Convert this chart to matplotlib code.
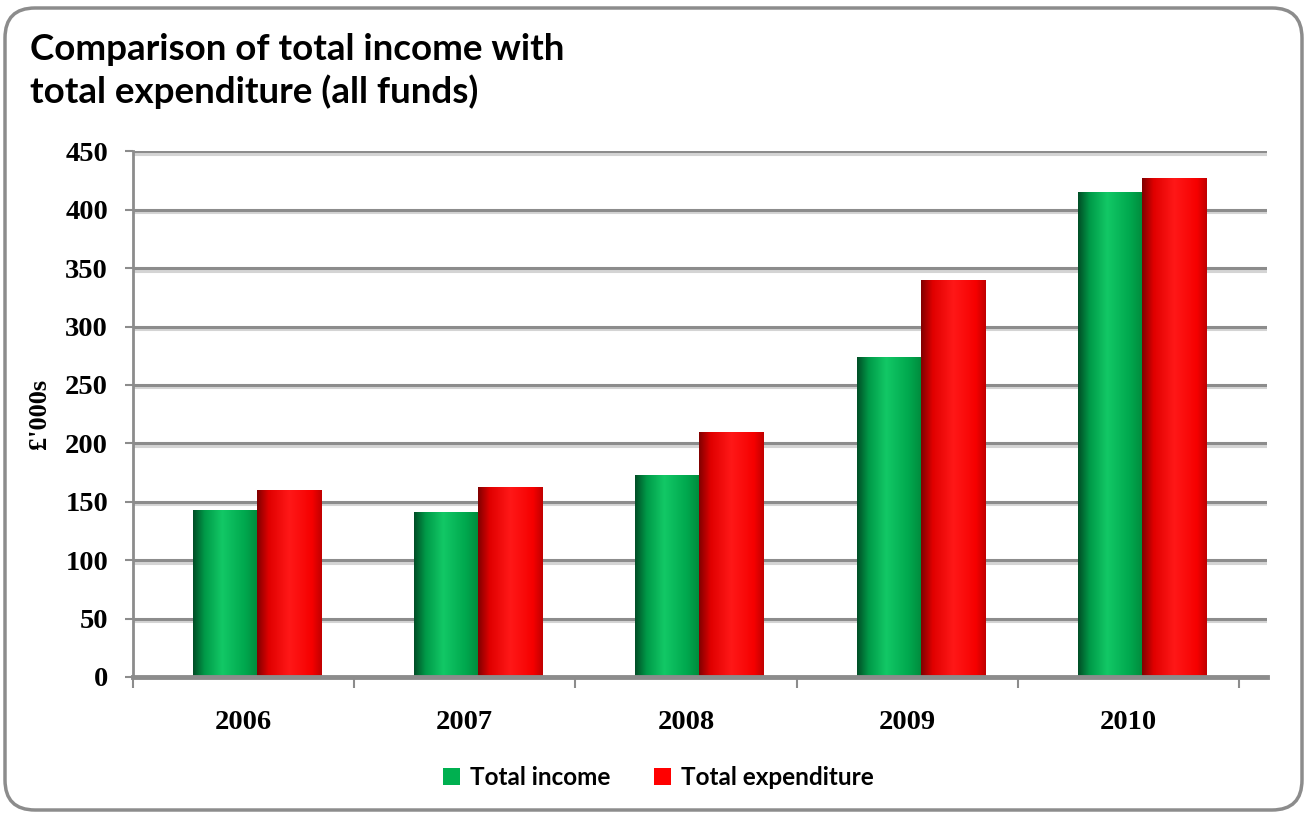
import matplotlib
matplotlib.use("Agg")
import matplotlib.pyplot as plt
import matplotlib.patheffects as pe
import numpy as np
from matplotlib.colors import LinearSegmentedColormap
from matplotlib.patches import FancyBboxPatch, Patch

# data (£'000s)
years = ["2006", "2007", "2008", "2009", "2010"]
income = [143, 141, 173, 274, 415]
expenditure = [160, 163, 210, 340, 427]
series_names = ["Total income", "Total expenditure"]
yticks = [0, 50, 100, 150, 200, 250, 300, 350, 400, 450]

GRAY = "#8c8c8c"
SERIF = "Liberation Serif"
SANS = "Lato"

green_cmap = LinearSegmentedColormap.from_list(
    "g", [(0, "#004d26"), (0.18, "#009a48"), (0.45, "#12c866"),
          (0.8, "#00a84e"), (1, "#008a3c")])
red_cmap = LinearSegmentedColormap.from_list(
    "r", [(0, "#800000"), (0.18, "#e00000"), (0.5, "#ff1818"),
          (0.85, "#f60000"), (1, "#c00000")])

fig = plt.figure(figsize=(13.06, 8.14), dpi=100)

# rounded outer frame
frame = FancyBboxPatch((0.05, 0.04), 12.97, 8.02,
                       boxstyle="round,pad=0,rounding_size=0.3",
                       transform=fig.dpi_scale_trans, fill=False,
                       edgecolor=GRAY, linewidth=2.5)
fig.patches.append(frame)

ax = fig.add_axes([133 / 1306, 137 / 814, 1134 / 1306, 525.6 / 814])

x = np.arange(len(years))
w = 0.29
shift = 0.061  # 3D depth offset of the bars inside each category
grad = np.linspace(0, 1, 256).reshape(1, -1)

for vals, cmap, side in ((income, green_cmap, -1), (expenditure, red_cmap, 1)):
    bars = ax.bar(x + shift + side * w / 2, vals, width=w,
                  color=cmap(0.5), zorder=3, linewidth=0)
    for b in bars:
        x0, y0 = b.get_x(), b.get_y()
        im = ax.imshow(grad, cmap=cmap, aspect="auto", zorder=4,
                       extent=(x0, x0 + b.get_width(), y0, y0 + b.get_height()))
        im.set_clip_path(b)

ax.set_xlim(-0.5, 4.5 + 28 / 221)
ax.set_ylim(0, 450)

# gridlines with a soft shadow
for yv in yticks[1:]:
    ax.axhline(yv, color=GRAY, linewidth=2.2, zorder=1,
               path_effects=[pe.SimpleLineShadow(offset=(0, -1.8),
                                                 shadow_color="#d4d4d4", alpha=1),
                             pe.Normal()])

for s in ("top", "right"):
    ax.spines[s].set_visible(False)
ax.spines["left"].set_color(GRAY)
ax.spines["left"].set_linewidth(2)
ax.spines["bottom"].set_color(GRAY)
ax.spines["bottom"].set_linewidth(3.5)
ax.spines["bottom"].set_zorder(5)

ax.set_yticks(yticks)
ax.set_yticklabels([str(t) for t in yticks], fontfamily=SERIF,
                   fontweight="bold", fontsize=20.5)
ax.tick_params(axis="y", length=6, width=1.5, color=GRAY, pad=12)

ax.set_xticks(x)
ax.set_xticklabels(years, fontfamily=SERIF, fontweight="bold", fontsize=20.5)
ax.set_xticks(np.arange(-0.5, 5, 1), minor=True)
ax.tick_params(axis="x", which="major", length=0, pad=24)
ax.tick_params(axis="x", which="minor", length=8, width=1.5, color=GRAY,
               direction="out")

ax.set_ylabel("£'000s", fontfamily=SERIF, fontweight="bold", fontsize=19,
              labelpad=10)

fig.text(30 / 1306, 1 - 33 / 814,
         "Comparison of total income with\ntotal expenditure (all funds)",
         fontfamily=SANS, fontweight="bold", fontsize=26.5, va="top", ha="left",
         linespacing=1.3)

handles = [Patch(facecolor="#00b050", edgecolor="none"),
           Patch(facecolor="#ff0000", edgecolor="none")]
fig.legend(handles, series_names, loc="center", bbox_to_anchor=(0.504, 0.045),
           ncol=2, frameon=False, handlelength=0.7, handleheight=0.7,
           handletextpad=0.4, columnspacing=1.8,
           prop={"family": SANS, "weight": "bold", "size": 17.5})

fig.savefig("out.png", dpi=100)
